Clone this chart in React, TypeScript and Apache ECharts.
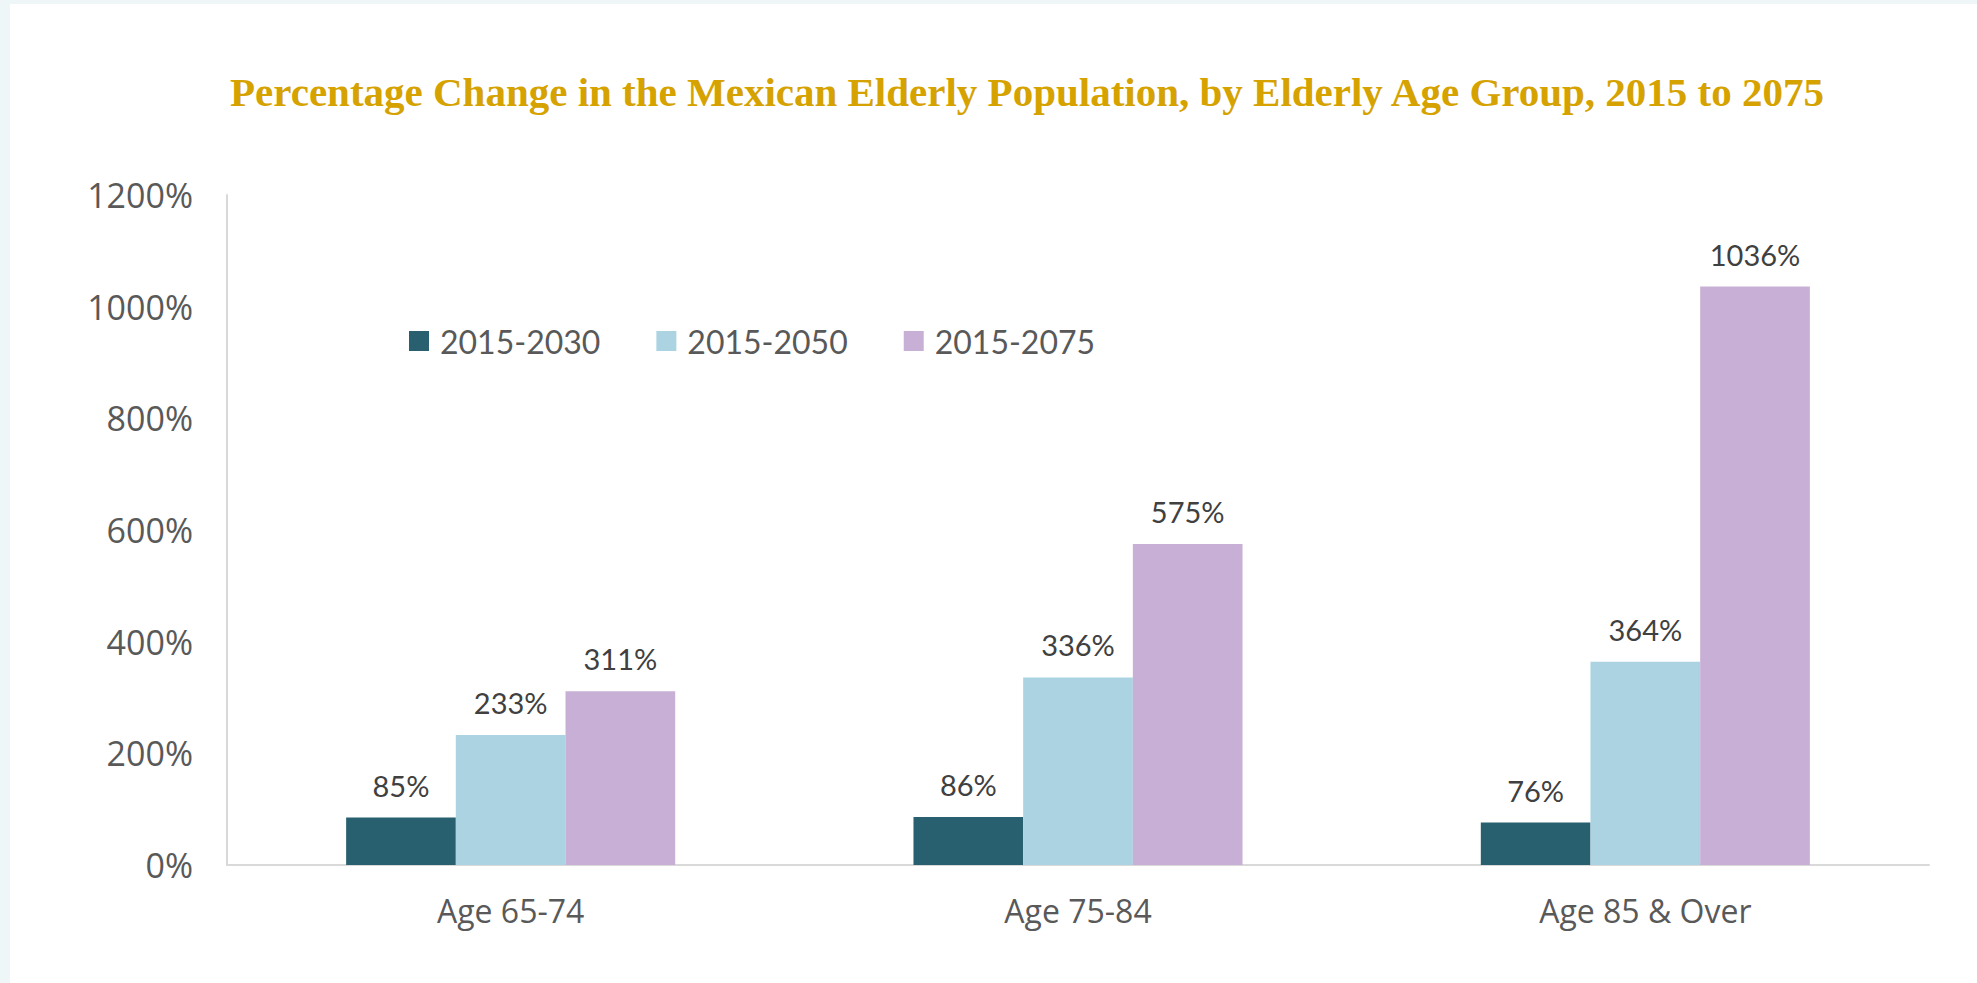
import React, { useEffect, useRef } from "react";
import * as echarts from "echarts";

const categories = ["Age 65-74", "Age 75-84", "Age 85 & Over"];
const seriesNames = ["2015-2030", "2015-2050", "2015-2075"];
const values2030 = [85, 86, 76];
const values2050 = [233, 336, 364];
const values2075 = [311, 575, 1036];
const yTicks = { min: 0, max: 1200, interval: 200 };
const titleText = "Percentage Change in the Mexican Elderly Population, by Elderly Age Group, 2015 to 2075";

const colors = ["#29606F", "#ABD3E1", "#C8AFD5"];

export default function App() {
  const ref = useRef<HTMLDivElement>(null);
  useEffect(() => {
    if (!ref.current) return;
    const chart = echarts.init(ref.current, null, { renderer: "svg" });
    const allValues = [values2030, values2050, values2075];
    const labelStyle = {
      show: true,
      position: "top",
      distance: 18,
      formatter: "{c}%",
      color: "#404040",
      fontFamily: "Lato",
      fontSize: 29,
    };
    chart.setOption({
      animation: false,
      backgroundColor: "#ffffff",
      color: colors,
      graphic: [
        { type: "rect", left: 0, top: 0, shape: { width: 1977, height: 4 }, style: { fill: "#EEF6F8" }, silent: true },
        { type: "rect", left: 0, top: 0, shape: { width: 10, height: 983 }, style: { fill: "#EEF6F8" }, silent: true },
      ],
      title: {
        text: titleText,
        left: 1022,
        textAlign: "center",
        top: 66,
        textStyle: {
          color: "#D5A200",
          fontFamily: "Liberation Serif",
          fontWeight: "bold",
          fontSize: 41,
        },
      },
      legend: {
        data: seriesNames,
        left: 404,
        top: 320,
        itemWidth: 20,
        itemHeight: 20,
        itemGap: 56,
        icon: "rect",
        textStyle: { color: "#595959", fontFamily: "Lato", fontSize: 32, padding: [0, 0, 0, 6] },
      },
      grid: { left: 227, right: 48, top: 195, bottom: 118, containLabel: false },
      xAxis: {
        type: "category",
        data: categories,
        axisLine: { lineStyle: { color: "#D9D9D9", width: 2 } },
        axisTick: { show: false },
        axisLabel: { color: "#595959", fontFamily: "Open Sans", fontSize: 32, margin: 29 },
      },
      yAxis: {
        type: "value",
        min: yTicks.min,
        max: yTicks.max,
        interval: yTicks.interval,
        axisLine: { show: true, lineStyle: { color: "#D9D9D9", width: 2 } },
        axisTick: { show: false },
        splitLine: { show: false },
        axisLabel: {
          color: "#595959",
          fontFamily: "Open Sans",
          fontSize: 34,
          margin: 34,
          formatter: (v: number) => String(v) + "%",
        },
      },
      series: seriesNames.map((name, i) => ({
        name,
        type: "bar",
        data: allValues[i],
        barGap: "0%",
        barCategoryGap: "42%",
        itemStyle: { color: colors[i] },
        label: labelStyle,
      })),
    });
    return () => chart.dispose();
  }, []);
  return (
    <div
      ref={ref}
      style={{ position: "fixed", left: 0, top: 0, width: 1977, height: 983 }}
    />
  );
}
